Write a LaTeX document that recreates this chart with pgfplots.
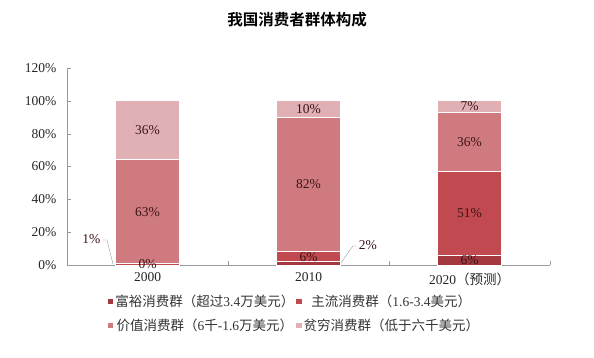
\documentclass[border=0pt]{standalone}
\usepackage{pgfplots}
\pgfplotsset{compat=1.18}
\usepackage{fontspec}
\setmainfont{Liberation Serif}
\newfontfamily\cjk{Noto Sans CJK SC}
\newfontfamily\cjkb{Noto Sans CJK SC Bold}
\definecolor{cA}{HTML}{A3383E}
\definecolor{cB}{HTML}{C04A4F}
\definecolor{cC}{HTML}{CF7A7F}
\definecolor{cD}{HTML}{E1B0B4}
\definecolor{lbl}{HTML}{3A1518}
\definecolor{axg}{HTML}{9A9A9A}
\begin{document}
\begin{tikzpicture}
\path[use as bounding box] (0,0) rectangle (594pt,358pt);
\node[font=\cjkb\fontsize{15.5pt}{17pt}\selectfont] at (297pt,338pt) {我国消费者群体构成};
\begin{axis}[
  at={(67pt,93pt)}, anchor=south west,
  scale only axis, width=483pt, height=197pt,
  clip=false,
  ybar stacked, bar width=0.4,
  xmin=-0.5, xmax=2.5, ymin=0, ymax=120,
  axis x line*=bottom, axis y line*=left,
  axis line style={axg, -},
  ytick={0,20,...,120},
  yticklabel={\pgfmathprintnumber{\tick}\%},
  tick label style={font=\fontsize{13.5pt}{15pt}\selectfont, text=black!85},
  yticklabel style={xshift=-7pt},
  xticklabel style={yshift=-4pt},
  /pgf/number format/assume math mode=true,
  ytick style={axg},
  major tick length=4pt,
  tick align=inside,
  xtick={0,1,2},
  xticklabels={2000,2010,{2020{\cjk （预测）}}},
  xtick style={draw=none},
  extra x ticks={0.5,1.5,2.5},
  extra x tick labels={},
  extra x tick style={tick align=inside, major tick length=4pt, xtick style={draw=axg}},
  point meta=explicit symbolic,
  nodes near coords={\pgfplotspointmeta},
  every node near coord/.append style={anchor=center, text=lbl,
     font=\fontsize{13.5pt}{15pt}\selectfont},
  legend columns=2,
  legend style={at={(0.085,-0.142)}, anchor=north west, draw=none, fill=none,
     inner sep=0pt, font=\cjk\fontsize{13.5pt}{15pt}\selectfont, text=black!80,
     /tikz/every even column/.append style={column sep=0pt},
     row sep=7pt},
  legend image code/.code={\fill[#1,draw=none] (0pt,-2.6pt) rectangle (5.2pt,2.6pt);},
]
\addplot+[fill=cA, draw=white, line width=0.9pt] coordinates {(0,0) [{}] (1,2) [{}] (2,6) [6\%]};
\addplot+[fill=cB, draw=white, line width=0.9pt] coordinates {(0,1) [{}] (1,6) [6\%] (2,51) [51\%]};
\addplot+[fill=cC, draw=white, line width=0.9pt] coordinates {(0,63) [63\%] (1,82) [82\%] (2,36) [36\%]};
\addplot+[fill=cD, draw=white, line width=0.9pt] coordinates {(0,36) [36\%] (1,10) [10\%] (2,7) [7\%]};
\legend{富裕消费群（超过{\rmfamily 3.4}万美元）, 主流消费群（{\rmfamily 1.6-3.4}美元）, 价值消费群（{\rmfamily 6}千{\rmfamily -1.6}万美元）, 贫穷消费群（低于六千美元）}
\coordinate (zeroLbl) at (axis cs:0,0.6);
\draw[axg, thin] (axis cs:-0.283,15.2) -- (axis cs:-0.252,15.2) -- (axis cs:-0.214,0.5);
\node[anchor=east, text=lbl, font=\fontsize{13.5pt}{15pt}\selectfont, inner sep=1pt] at (axis cs:-0.285,15.6) {1\%};
\draw[axg, thin] (axis cs:1.196,0.5) -- (axis cs:1.276,11.6) -- (axis cs:1.30,11.6);
\node[anchor=west, text=lbl, font=\fontsize{13.5pt}{15pt}\selectfont, inner sep=1pt] at (axis cs:1.305,11.9) {2\%};
\end{axis}
\node[text=lbl, font=\fontsize{13.5pt}{15pt}\selectfont, inner sep=0pt] at (zeroLbl) {0\%};
\end{tikzpicture}
\end{document}
